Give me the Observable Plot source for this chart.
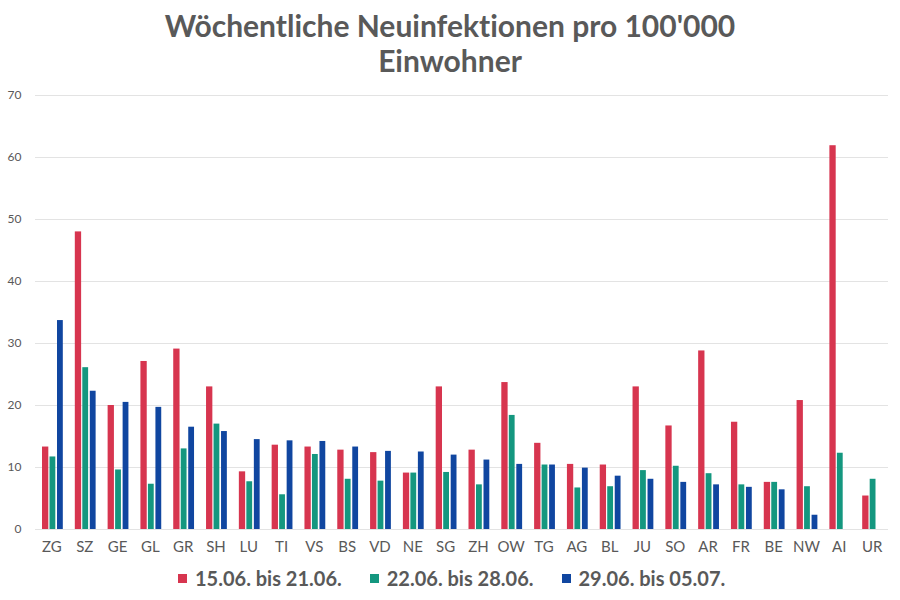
<!DOCTYPE html>
<html>
<head>
<meta charset="utf-8">
<script src="https://cdn.jsdelivr.net/npm/d3@7"></script>
<script src="https://cdn.jsdelivr.net/npm/@observablehq/plot@0.6"></script>
<style>
  html, body { margin: 0; padding: 0; background: #fff; }
  #wrap { width: 900px; height: 600px; position: relative; font-family: Lato, "Open Sans", sans-serif; font-variant-ligatures: none; }
  #title { position: absolute; top: 8px; left: 0; width: 900px; text-align: center; font-weight: 700; font-size: 30px; line-height: 35px; color: #595959; }
  #chart { position: absolute; top: 85px; left: 0; }
  #legend { position: absolute; top: 563px; left: 178px; display: flex; font-size: 20px; font-weight: 700; color: #595959; line-height: 30px; }
  .item { display: flex; align-items: center; margin-right: 28px; }
  .sw { width: 9px; height: 9px; margin-right: 8px; display: inline-block; }
  g[aria-label^="x-axis"] text { font-size: 15px; fill: #595959; }
  g[aria-label^="y-axis"] text { font-size: 12px; fill: #595959; }
</style>
</head>
<body>
<div id="wrap">
  <div id="title">Wöchentliche Neuinfektionen pro 100'000<br>Einwohner</div>
  <div id="chart"></div>
  <div id="legend"></div>
</div>
<script>
const cantons = ["ZG","SZ","GE","GL","GR","SH","LU","TI","VS","BS","VD","NE","SG","ZH","OW","TG","AG","BL","JU","SO","AR","FR","BE","NW","AI","UR"];
const seriesNames = ["15.06. bis 21.06.", "22.06. bis 28.06.", "29.06. bis 05.07."];
const week1 = [13.3, 48.0, 20.0, 27.1, 29.1, 23.0, 9.3, 13.6, 13.3, 12.8, 12.4, 9.1, 23.0, 12.8, 23.7, 13.9, 10.5, 10.4, 23.0, 16.7, 28.8, 17.3, 7.6, 20.8, 61.9, 5.4];
const week2 = [11.7, 26.1, 9.6, 7.3, 13.0, 17.0, 7.7, 5.6, 12.1, 8.1, 7.8, 9.1, 9.2, 7.2, 18.4, 10.4, 6.7, 6.9, 9.5, 10.2, 9.0, 7.2, 7.6, 6.9, 12.3, 8.1];
const week3 = [33.7, 22.3, 20.5, 19.7, 16.5, 15.8, 14.5, 14.3, 14.2, 13.3, 12.6, 12.5, 12.0, 11.2, 10.5, 10.4, 9.9, 8.6, 8.1, 7.6, 7.2, 6.8, 6.4, 2.3, null, null];
const yTicks = [0, 10, 20, 30, 40, 50, 60, 70];
const colors = ["#d7354f", "#14977f", "#1046a0"];

const weeks = [week1, week2, week3];
const tables = weeks.map((w, i) => cantons.map((c, j) => ({canton: c, series: seriesNames[i], value: w[j]})).filter(d => d.value != null));
const insets = [[7, 19.5], [14.5, 12.5], [22, 5]];

const chart = Plot.plot({
  width: 900,
  height: 475,
  marginLeft: 35,
  marginRight: 12,
  marginTop: 10,
  marginBottom: 31,
  style: { fontFamily: "Lato, 'Open Sans', sans-serif", color: "#595959", background: "transparent" },
  x: { domain: cantons, padding: 0, round: false, tickSize: 0, tickPadding: 12, label: null },
  y: { domain: [0, 70], ticks: yTicks, tickSize: 0, tickPadding: 14, label: null },
  marks: [
    Plot.ruleY(yTicks, { stroke: "#e3e3e3", strokeWidth: 1 }),
    ...tables.map((t, i) => Plot.barY(t, {
      x: "canton", y: "value", fill: colors[i],
      insetLeft: insets[i][0], insetRight: insets[i][1]
    }))
  ]
});
document.getElementById("chart").appendChild(chart);

const legend = document.getElementById("legend");
seriesNames.forEach((s, i) => {
  const item = document.createElement("div");
  item.className = "item";
  const sw = document.createElement("span");
  sw.className = "sw";
  sw.style.background = colors[i];
  item.appendChild(sw);
  item.appendChild(document.createTextNode(s));
  legend.appendChild(item);
});
</script>
</body>
</html>
